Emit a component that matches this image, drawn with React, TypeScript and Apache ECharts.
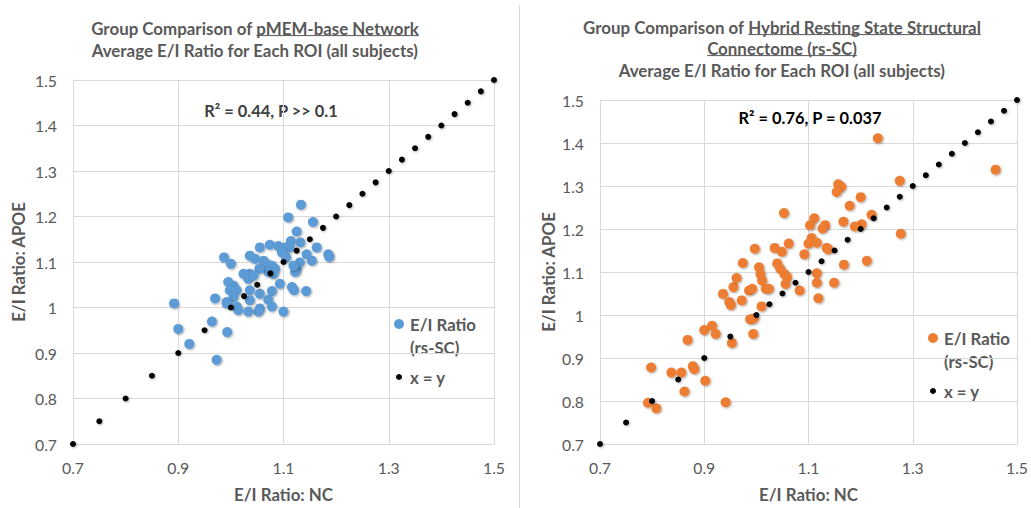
import { useEffect, useRef } from "react";
import * as echarts from "echarts";

// ---------- data ----------
const axisMin = 0.7;
const axisMax = 1.5;
const xInterval = 0.2;
const yInterval = 0.1;

// reference x = y points
const identityValues = [
  0.7, 0.75, 0.8, 0.85, 0.9, 0.95, 1.0, 1.025, 1.05, 1.075, 1.1, 1.125, 1.15, 1.175, 1.2,
  1.225, 1.25, 1.275, 1.3, 1.325, 1.35, 1.375, 1.4, 1.425, 1.45, 1.475, 1.5,
];

// pMEM-base network: [NC, APOE]
const pmemPoints: [number, number][] = [
  [1.133, 1.226], [1.109, 1.198], [1.156, 1.188], [1.125, 1.167], [1.114, 1.146], [1.132, 1.143],
  [1.163, 1.132], [1.185, 1.117], [1.187, 1.111], [1.144, 1.117], [1.154, 1.103], [1.125, 1.085],
  [1.122, 1.078], [1.055, 1.132], [1.074, 1.138], [1.09, 1.135], [1.103, 1.132], [1.112, 1.132],
  [1.036, 1.114], [1.046, 1.107], [0.987, 1.11], [1.0, 1.096], [1.062, 1.103], [1.068, 1.096],
  [1.078, 1.092], [1.084, 1.085], [1.071, 1.078], [1.081, 1.074], [1.054, 1.085], [1.097, 1.121],
  [1.105, 1.11], [1.131, 1.099], [1.119, 1.092], [1.036, 1.074], [1.024, 1.074], [1.033, 1.063],
  [1.043, 1.07], [0.995, 1.056], [1.005, 1.048], [0.998, 1.038], [1.011, 1.038], [1.005, 1.023],
  [0.992, 1.012], [0.97, 1.02], [1.036, 1.038], [1.055, 1.03], [1.078, 1.036], [1.071, 1.017],
  [1.093, 1.052], [1.116, 1.045], [1.12, 1.038], [1.143, 1.036], [1.036, 1.016], [1.055, 0.998],
  [1.052, 0.991], [1.078, 1.002], [1.1, 0.991], [0.992, 1.009], [1.011, 1.002], [1.014, 0.994],
  [1.033, 0.991], [0.964, 0.969], [0.9, 0.953], [0.921, 0.92], [0.993, 0.946], [0.973, 0.885],
  [0.892, 1.009],
];

// Hybrid resting state structural connectome: [NC, APOE]
const rsscPoints: [number, number][] = [
  [0.792, 0.796], [0.808, 0.783], [0.798, 0.878], [0.837, 0.866], [0.856, 0.866], [0.878, 0.881],
  [0.881, 0.874], [0.902, 0.847], [0.862, 0.822], [0.941, 0.797], [0.868, 0.942], [0.9, 0.965],
  [0.915, 0.975], [0.922, 0.956], [0.953, 0.935], [0.994, 0.956], [0.988, 0.99], [0.995, 0.992],
  [1.01, 1.02], [0.936, 1.049], [0.948, 1.03], [0.951, 1.023], [0.972, 1.034], [0.986, 1.057],
  [0.992, 1.061], [0.956, 1.065], [0.962, 1.086], [0.974, 1.121], [0.997, 1.154], [1.005, 1.111],
  [1.008, 1.095], [1.011, 1.08], [1.018, 1.061], [1.024, 1.061], [1.04, 1.12], [1.046, 1.107],
  [1.054, 1.095], [1.059, 1.088], [1.056, 1.072], [1.083, 1.057], [1.119, 1.039], [1.116, 1.097],
  [1.116, 1.075], [1.149, 1.075], [1.092, 1.141], [1.062, 1.166], [1.035, 1.156], [1.049, 1.147],
  [1.053, 1.237], [1.106, 1.179], [1.1, 1.166], [1.116, 1.168], [1.135, 1.156], [1.138, 1.153],
  [1.111, 1.225], [1.103, 1.209], [1.132, 1.209], [1.127, 1.201], [1.157, 1.304], [1.163, 1.298],
  [1.154, 1.286], [1.2, 1.274], [1.179, 1.254], [1.221, 1.233], [1.167, 1.217], [1.202, 1.211],
  [1.189, 1.206], [1.168, 1.117], [1.212, 1.126], [1.233, 1.411], [1.275, 1.312], [1.277, 1.189],
  [1.459, 1.338],
];

const leftTitle = [
  [{ t: "Group Comparison of ", u: false }, { t: "pMEM-base Network", u: true }],
  [{ t: "Average E/I Ratio for Each ROI (all subjects)", u: false }],
];
const rightTitle = [
  [{ t: "Group Comparison of ", u: false }, { t: "Hybrid Resting State Structural", u: true }],
  [{ t: "Connectome (rs-SC)", u: true }],
  [{ t: "Average E/I Ratio for Each ROI (all subjects)", u: false }],
];
const leftStat = "R² = 0.44, P >> 0.1";
const rightStat = "R² = 0.76, P = 0.037";
const seriesName = "E/I Ratio (rs-SC)";
const legendLines = ["E/I Ratio", "(rs-SC)"];
const identityName = "x = y";
const xName = "E/I Ratio: NC";
const yName = "E/I Ratio: APOE";

const FONT = "Lato, 'Open Sans', sans-serif";
const GRAY = "#595959";
const GRID = "#d9d9d9";
const BLUE = "#5b9bd5";
const ORANGE = "#ed7d31";

function measure(text: string, font: string) {
  const ctx = document.createElement("canvas").getContext("2d")!;
  ctx.font = font;
  return ctx.measureText(text).width;
}
function fit(text: string, target: number, weight: string) {
  const base = 20;
  return (base * target) / measure(text, `${weight} ${base}px Lato`);
}

export default function App() {
  const ref = useRef<HTMLDivElement>(null);
  useEffect(() => {
    document.body.style.margin = "0";
    const chart = echarts.init(ref.current!, undefined, { renderer: "svg" });

    const titleSize = fit("Average E/I Ratio for Each ROI (all subjects)", 327, "bold");
    const legendSize = fit("E/I Ratio", 66, "bold");
    const nameSize = fit(xName, 99, "bold");
    const statSize = fit(leftStat, 134, "bold");
    const tickSize = fit("0.9", 22, "normal");

    const graphics: any[] = [];
    const addTitle = (lines: any[], cx: number, ys: number[]) => {
      lines.forEach((segs: any[], i: number) => {
        const font = `bold ${titleSize}px Lato`;
        const widths = segs.map((s) => measure(s.t, font));
        const total = widths.reduce((a, b) => a + b, 0);
        let x = cx - total / 2;
        segs.forEach((s, j) => {
          graphics.push({
            type: "text",
            x,
            y: ys[i],
            style: {
              text: s.t,
              fill: GRAY,
              fontSize: titleSize,
              fontWeight: "bold",
              fontFamily: FONT,
              textAlign: "left",
              textVerticalAlign: "middle",
            },
          });
          if (s.u) {
            const w = s.t.endsWith(" ") ? widths[j] - measure(" ", font) : widths[j];
            const uy = ys[i] + titleSize * 0.45;
            graphics.push({
              type: "line",
              shape: { x1: x, y1: uy, x2: x + w, y2: uy },
              style: { stroke: GRAY, lineWidth: 1 },
            });
          }
          x += widths[j];
        });
      });
    };
    addTitle(leftTitle, 255, [28, 50]);
    addTitle(rightTitle, 782, [27, 48, 70]);

    const txt = (text: string, x: number, y: number, fill: string, size: number, align = "left") => ({
      type: "text",
      x,
      y,
      style: {
        text,
        fill,
        fontSize: size,
        fontWeight: "bold",
        fontFamily: FONT,
        textAlign: align,
        textVerticalAlign: "middle",
      },
    });
    graphics.push(txt(leftStat, 271, 110, "#404040", statSize, "center"));
    graphics.push(txt(rightStat, 810, 117, "#000", statSize, "center"));

    // legends
    const addLegend = (x: number, y: number, color: string) => {
      graphics.push({ type: "circle", shape: { cx: x, cy: y, r: 5 }, style: { fill: color } });
      graphics.push(txt(legendLines[0], x + 11, y, GRAY, legendSize));
      graphics.push(txt(legendLines[1], x + 11, y + 23, GRAY, legendSize));
      graphics.push({ type: "circle", shape: { cx: x, cy: y + 53, r: 3 }, style: { fill: "#000" } });
      graphics.push(txt(identityName, x + 11, y + 53, GRAY, legendSize));
    };
    addLegend(399, 324, BLUE);
    addLegend(933, 338, ORANGE);

    graphics.push({
      type: "line",
      shape: { x1: 519.5, y1: 5, x2: 519.5, y2: 508 },
      style: { stroke: GRID, lineWidth: 1 },
    });

    const identity = identityValues.map((v) => [v, v]);

    const makeX = (gridIndex: number) => ({
      type: "value",
      gridIndex,
      min: axisMin,
      max: axisMax,
      interval: xInterval,
      name: xName,
      nameLocation: "middle",
      nameGap: 42,
      nameTextStyle: { color: GRAY, fontSize: nameSize, fontWeight: "bold", fontFamily: FONT },
      axisLine: { show: true, lineStyle: { color: GRID } },
      axisTick: { show: false },
      axisLabel: { color: GRAY, fontSize: tickSize, fontFamily: FONT, margin: 15 },
      splitLine: { show: true, lineStyle: { color: GRID, width: 1 } },
    });
    const makeY = (gridIndex: number, gap: number) => ({
      type: "value",
      gridIndex,
      min: axisMin,
      max: axisMax,
      interval: yInterval,
      name: yName,
      nameLocation: "middle",
      nameGap: gap,
      nameTextStyle: { color: GRAY, fontSize: nameSize, fontWeight: "bold", fontFamily: FONT },
      axisLine: { show: true, lineStyle: { color: GRID } },
      axisTick: { show: false },
      axisLabel: { color: GRAY, fontSize: tickSize, fontFamily: FONT, margin: 16 },
      splitLine: { show: true, lineStyle: { color: GRID, width: 1 } },
    });

    const scatter = (idx: number, data: any[], color: string) => ({
      type: "scatter",
      name: seriesName,
      xAxisIndex: idx,
      yAxisIndex: idx,
      data,
      symbolSize: 10,
      itemStyle: {
        color,
        opacity: 1,
        shadowBlur: 2,
        shadowColor: "rgba(0,0,0,0.35)",
        shadowOffsetX: 1,
        shadowOffsetY: 1,
      },
    });
    const idSeries = (idx: number) => ({
      type: "scatter",
      name: identityName,
      xAxisIndex: idx,
      yAxisIndex: idx,
      data: identity,
      symbolSize: 6,
      itemStyle: { color: "#000", opacity: 1, shadowBlur: 2, shadowColor: "rgba(0,0,0,0.3)", shadowOffsetX: 1, shadowOffsetY: 1 },
    });

    chart.setOption({
      animation: false,
      backgroundColor: "#fff",
      grid: [
        { left: 73, top: 80, width: 421, height: 367, containLabel: false },
        { left: 600, top: 100, width: 420, height: 349, containLabel: false },
      ],
      xAxis: [makeX(0), makeX(1)],
      yAxis: [makeY(0, 46), makeY(1, 43)],
      series: [scatter(0, pmemPoints, BLUE), idSeries(0), scatter(1, rsscPoints, ORANGE), idSeries(1)],
      graphic: graphics,
    });
    return () => chart.dispose();
  }, []);
  return <div ref={ref} style={{ width: 1031, height: 508 }} />;
}
